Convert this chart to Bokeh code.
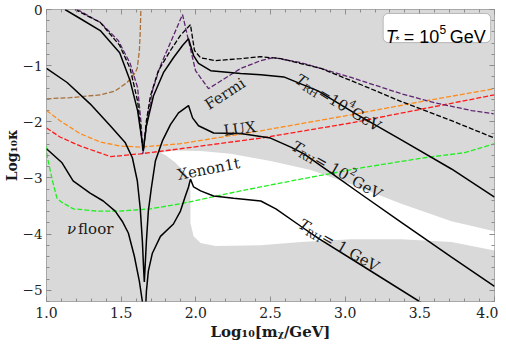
import numpy as np
from bokeh.plotting import figure
from bokeh.models import Range1d, FixedTicker, LinearAxis, BoxAnnotation, Label, CustomJSTickFormatter, NumeralTickFormatter
from bokeh.embed import file_html
from bokeh.resources import INLINE

# ---------------- data ----------------
# black dashed curve (upper)
dash_black_x = [1.19, 1.36, 1.49, 1.56, 1.61, 1.635, 1.648, 1.669, 1.696, 1.749, 1.83, 1.897, 1.964, 1.991, 2.032, 2.132, 2.30, 2.435, 2.569, 2.838, 3.107, 3.376, 3.712, 4.0]
dash_black_y = [0.0, -0.23, -0.64, -1.05, -1.63, -2.25, -2.52, -1.98, -1.54, -1.09, -0.73, -0.46, -0.27, -0.73, -0.86, -0.91, -0.875, -0.84, -0.875, -1.05, -1.34, -1.64, -1.98, -2.29]

# T_RH = 10^4 GeV (solid)
trh4_x = [1.124, 1.225, 1.36, 1.49, 1.56, 1.61, 1.635, 1.648, 1.669, 1.716, 1.783, 1.85, 1.911, 1.951, 1.985, 2.018, 2.099, 2.30, 2.435, 2.589, 2.818, 3.06, 3.376, 3.712, 4.0]
trh4_y = [0.0, -0.16, -0.375, -0.77, -1.27, -1.80, -2.25, -2.52, -2.07, -1.54, -1.125, -0.86, -0.64, -0.52, -0.82, -0.96, -1.09, -1.14, -1.16, -1.20, -1.45, -1.84, -2.32, -2.84, -3.34]

# T_RH = 10^2 GeV (solid)
trh2_x = [1.0, 1.138, 1.292, 1.427, 1.528, 1.575, 1.608, 1.628, 1.642, 1.650, 1.655, 1.660, 1.669, 1.682, 1.702, 1.729, 1.776, 1.83, 1.884, 1.951, 1.978, 2.018, 2.119, 2.30, 2.50, 2.636, 2.724, 2.905, 3.107, 3.376, 3.712, 4.0]
trh2_y = [-1.05, -1.30, -1.68, -2.07, -2.375, -2.64, -3.05, -3.55, -4.125, -4.6, -4.85, -4.6, -4.125, -3.59, -3.18, -2.70, -2.34, -2.05, -1.84, -1.71, -1.93, -2.07, -2.20, -2.21, -2.29, -2.45, -2.57, -2.91, -3.29, -3.79, -4.41, -4.93]

# T_RH = 1 GeV (solid)
trh0_x = [1.0, 1.104, 1.178, 1.292, 1.38, 1.46, 1.507, 1.548, 1.588, 1.622, 1.642, 1.648, 1.662, 1.669, 1.682, 1.709, 1.763, 1.85, 1.897, 1.93, 1.951, 1.964, 1.985, 2.032, 2.119, 2.253, 2.435, 2.536, 2.703, 2.818, 3.107, 3.497, 3.54]
trh0_y = [-2.48, -2.73, -3.05, -3.27, -3.41, -3.59, -3.77, -3.98, -4.39, -4.84, -5.2, -5.4, -5.4, -5.02, -4.66, -4.34, -4.04, -3.82, -3.59, -3.32, -3.16, -3.02, -3.16, -3.23, -3.32, -3.36, -3.41, -3.55, -3.86, -4.07, -4.55, -5.2, -5.29]

# Fermi (purple dashed)
fermi_x = [1.205, 1.36, 1.48, 1.56, 1.61, 1.635, 1.645, 1.669, 1.709, 1.763, 1.83, 1.911, 1.998, 2.085, 2.30, 2.435, 2.52, 2.703, 3.04, 3.376, 3.598, 3.847, 3.995]
fermi_y = [0.0, -0.23, -0.55, -0.96, -1.39, -2.07, -2.57, -2.07, -1.45, -1.0, -0.59, -0.09, -1.09, -1.41, -1.05, -0.91, -0.857, -0.946, -1.21, -1.5, -1.66, -1.80, -1.857]

# brown dashed
brown_x = [1.0, 1.16, 1.36, 1.46, 1.54, 1.595, 1.608, 1.622, 1.628, 1.632, 1.633]
brown_y = [-1.59, -1.57, -1.52, -1.45, -1.30, -1.125, -1.04, -0.73, -0.375, 0.0, 0.05]

# LUX (orange dashed)
lux_x = [1.0, 1.09, 1.225, 1.36, 1.49, 1.628, 1.897, 2.435, 3.04, 3.51, 4.0]
lux_y = [-1.80, -1.98, -2.21, -2.36, -2.43, -2.45, -2.39, -2.16, -1.875, -1.64, -1.41]

# Xenon1t (red dashed)
xenon_x = [1.0, 1.09, 1.225, 1.43, 1.628, 1.897, 2.435, 3.04, 4.0]
xenon_y = [-2.11, -2.27, -2.43, -2.62, -2.57, -2.48, -2.29, -2.02, -1.52]

# neutrino floor (green dashed)
nu_x = [1.0, 1.004, 1.04, 1.07, 1.10, 1.18, 1.34, 1.49, 1.696, 1.897, 2.30, 2.703, 3.107, 3.53, 3.80, 4.0]
nu_y = [-2.43, -2.61, -3.05, -3.36, -3.43, -3.55, -3.59, -3.59, -3.55, -3.46, -3.23, -3.02, -2.82, -2.64, -2.55, -2.39]

# allowed (white) region
allowed_x = [1.763, 1.864, 2.032, 2.233, 2.50, 2.77, 3.04, 3.376, 3.712, 4.0, 4.0, 3.712, 3.376, 3.04, 2.703, 2.435, 2.132, 2.032, 1.985, 1.964, 1.964, 1.958, 1.93, 1.864, 1.796]
allowed_y = [-2.55, -2.51, -2.52, -2.57, -2.70, -2.86, -3.11, -3.46, -3.77, -3.95, -4.29, -4.14, -4.09, -4.09, -4.14, -4.20, -4.21, -4.16, -4.04, -3.80, -3.23, -3.05, -2.91, -2.73, -2.59]

x_major = [1.0, 1.5, 2.0, 2.5, 3.0, 3.5, 4.0]
y_major = [0, -1, -2, -3, -4, -5]

# ---------------- figure ----------------
GRAY = "#d9d9d9"
SERIF = "DejaVu Serif"
p = figure(width=498, height=350, x_range=Range1d(1.0, 4.0), y_range=Range1d(-5.2, 0.0),
           output_backend="svg", toolbar_location=None,
           min_border_left=46, min_border_right=4, min_border_top=9, min_border_bottom=49)
p.background_fill_color = GRAY
p.border_fill_color = "white"
p.outline_line_color = "#a8a8a8"
p.grid.visible = False

x_minor = [round(1.0 + 0.1 * i, 3) for i in range(31)]
y_minor = [round(-0.2 * i, 3) for i in range(27)]


def style_axis(ax, ticks, minor, size="14px"):
    ax.ticker = FixedTicker(ticks=ticks, minor_ticks=minor)
    ax.axis_line_color = None
    ax.major_tick_in = 5
    ax.major_tick_out = 0
    ax.minor_tick_in = 3
    ax.minor_tick_out = 0
    ax.major_tick_line_color = "#8c8c8c"
    ax.minor_tick_line_color = "#8c8c8c"
    ax.major_label_text_font = SERIF
    ax.major_label_text_font_size = size
    ax.major_label_text_color = "#222222"


xa = p.xaxis[0]
ya = p.yaxis[0]
style_axis(xa, x_major, x_minor)
style_axis(ya, y_major, y_minor, "13.5px")
xa.formatter = NumeralTickFormatter(format="0.0")
ya.formatter = CustomJSTickFormatter(code="return tick == 0 ? '0' : '\\u2212' + Math.abs(tick).toFixed(0);")
xa.major_label_standoff = 5
ya.major_label_standoff = 4
xa.axis_label = "Log\u2081\u2080[m\u1d6a/GeV]"
ya.axis_label = "Log\u2081\u2080\u03ba"
for ax in (xa, ya):
    ax.axis_label_text_font = SERIF
    ax.axis_label_text_font_style = "bold"
    ax.axis_label_text_color = "#1a1a1a"
xa.axis_label_text_font_size = "15px"
ya.axis_label_text_font_size = "14px"
xa.axis_label_standoff = 2
ya.axis_label_standoff = 0

# tick-only axes on the top and right edges (labels not drawn)
for loc, ticks, minor in (("above", x_major, x_minor), ("right", y_major, y_minor)):
    ax2 = LinearAxis()
    style_axis(ax2, ticks, minor)
    ax2.major_label_text_font_size = "1px"
    ax2.major_label_text_color = None
    ax2.major_label_standoff = 0
    p.add_layout(ax2, loc)

# allowed region
p.patch(allowed_x, allowed_y, fill_color="white", line_color=None)

DASH = "5 2"
p.line(nu_x, nu_y, line_color="#22ee22", line_width=1.3, line_dash=DASH)
p.line(xenon_x, xenon_y, line_color="#ff1a1a", line_width=1.3, line_dash=DASH)
p.line(lux_x, lux_y, line_color="#ff8c1a", line_width=1.3, line_dash=DASH)
p.line(brown_x, brown_y, line_color="#a8703a", line_width=1.3, line_dash=DASH)
p.line(fermi_x, fermi_y, line_color="#5e2470", line_width=1.3, line_dash=DASH)
p.line(dash_black_x, dash_black_y, line_color="black", line_width=1.3, line_dash=DASH)
for xs, ys in ((trh4_x, trh4_y), (trh2_x, trh2_y), (trh0_x, trh0_y)):
    p.line(xs, ys, line_color="black", line_width=1.5)

# ---------------- labels ----------------
PXX = 149.3  # px per x unit (for spacing pieces of one label)
PXY = 56.15  # px per y unit


def rich(x0, y0, ang_deg, pieces, font=SERIF, color="#1a1a1a"):
    a = np.radians(ang_deg)
    ca, sa = np.cos(a), np.sin(a)
    d = 0.0
    for txt, size, style, adv, up in pieces:
        ox = d * ca - up * sa
        oy = d * sa + up * ca
        p.add_layout(Label(x=x0 + ox / PXX, y=y0 + oy / PXY, text=txt, angle=a,
                           text_font=font, text_font_size=f"{size}px",
                           text_font_style=style, text_color=color,
                           text_align="left", text_baseline="alphabetic"))
        d += adv


rich(2.07, -1.72, 33, [("Fermi", 15, "normal", 0, 0)])
rich(2.186, -2.16, 7, [("LUX", 15, "normal", 0, 0)])
rich(1.877, -2.95, 11, [("Xenon1t", 15, "normal", 0, 0)])
rich(1.138, -3.91, 0, [("\u03bd", 15, "italic", 11, 0), ("floor", 15, "normal", 0, 0)])
rich(2.677, -1.22, -31, [("T", 15, "italic", 10, 0), ("RH", 10, "normal", 16.5, -4),
                         ("=10", 15, "normal", 31.5, 0), ("4", 10, "normal", 6.5, 7),
                         (" GeV", 15, "normal", 0, 0)])
rich(2.650, -2.41, -30, [("T", 15, "italic", 10, 0), ("RH", 10, "normal", 16.5, -4),
                         ("= 10", 15, "normal", 36.5, 0), ("2", 10, "normal", 6.5, 7),
                         (" GeV", 15, "normal", 0, 0)])
rich(2.697, -3.80, -30, [("T", 15, "italic", 10, 0), ("RH", 10, "normal", 16.5, -4),
                         ("= 1 GeV", 15, "normal", 0, 0)])

# legend box
box = BoxAnnotation(left=3.255, right=3.974, top=-0.071, bottom=-0.589,
                    fill_color="white", fill_alpha=1.0, line_color="#444444",
                    line_width=1, border_radius=5)
p.add_layout(box)
SANS = "Liberation Sans"
for txt, xx, yy, size, style in (("T", 3.272, -0.482, 18, "italic"),
                                 ("*", 3.337, -0.56, 10, "normal"),
                                 ("= 10", 3.392, -0.482, 18, "normal"),
                                 ("5", 3.632, -0.36, 12, "normal"),
                                 ("GeV", 3.700, -0.482, 18, "normal")):
    p.add_layout(Label(x=xx, y=yy, text=txt, text_font=SANS, text_font_size=f"{size}px",
                       text_font_style=style, text_color="black",
                       text_baseline="alphabetic", text_align="left"))

open("out.html", "w").write(file_html(p, INLINE))
